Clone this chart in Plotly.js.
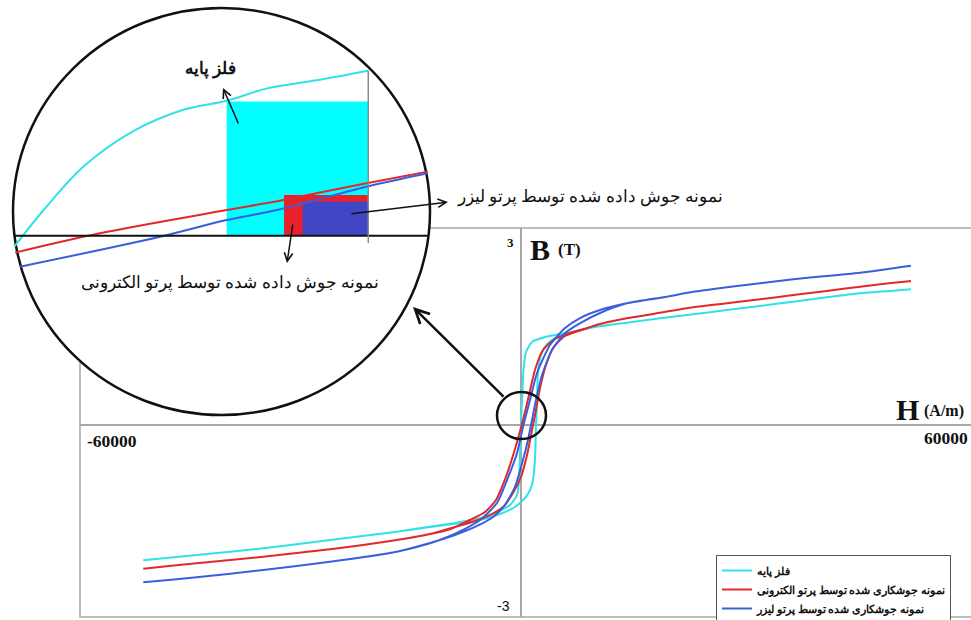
<!DOCTYPE html>
<html>
<head>
<meta charset="utf-8">
<script src="https://cdn.plot.ly/plotly-3.0.1.min.js"></script>
<style>html,body{margin:0;padding:0;background:#fff;}#chart{width:971px;height:620px;}</style>
</head>
<body>
<div id="chart"></div>
<script>
// ---------- main hysteresis loops (H in A/m, B in T) ----------
var seriesNames = ["فلز پایه", "نمونه جوشکاری شده توسط پرتو الکترونی", "نمونه جوشکاری شده توسط پرتو لیزر"];

// base metal (cyan)
var cyanDescH = [53060,50650,46120,41590,37050,32520,27990,23440,18910,14380,9840,6260,3270,1500,680,340,140,0,-140,-270,-540,-1500,-3270,-5580,-8750,-12380,-16910,-25990,-35060,-44120,-51390];
var cyanDescB = [2.067,2.045,2.006,1.945,1.878,1.812,1.751,1.686,1.625,1.558,1.488,1.401,1.340,1.264,1.112,0.838,0.381,0,-0.457,-0.838,-1.066,-1.218,-1.325,-1.421,-1.488,-1.549,-1.625,-1.751,-1.878,-1.980,-2.060];
var cyanAscH = [-51390,-44120,-35060,-25990,-16910,-12380,-8750,-5580,-2860,-820,680,1500,1900,2040,2180,2310,2720,3540,4900,6260,9840,14380,18910,23440,27990,32520,37050,41590,46120,50650,53060];
var cyanAscB = [-2.060,-1.980,-1.878,-1.751,-1.625,-1.553,-1.500,-1.447,-1.355,-1.249,-1.096,-0.914,-0.533,0,0.381,0.807,1.066,1.233,1.340,1.386,1.488,1.558,1.625,1.686,1.751,1.812,1.878,1.945,2.006,2.045,2.067];

// electron beam welded (red)
var redDescH = [53060,50650,46120,41590,37050,32520,27990,23440,18910,14380,10750,8940,6670,4630,2990,1900,1090,270,-540,-1360,-2310,-3400,-4900,-6940,-9660,-12380,-16910,-25990,-35060,-44120,-51390];
var redDescB = [2.193,2.167,2.106,2.041,1.980,1.914,1.853,1.792,1.710,1.625,1.538,1.473,1.401,1.310,1.142,0.838,0.457,0.076,-0.259,-0.563,-0.868,-1.142,-1.325,-1.447,-1.588,-1.660,-1.751,-1.893,-2.006,-2.106,-2.188];
var redAscH = [-51390,-44120,-35060,-25990,-16910,-12380,-8980,-6260,-4220,-2450,-1090,0,820,1500,2040,2590,3400,4350,5990,8940,10750,14380,18910,23440,27990,32520,37050,41590,46120,50650,53060];
var redAscB = [-2.188,-2.106,-2.006,-1.893,-1.751,-1.660,-1.553,-1.462,-1.371,-1.249,-1.036,-0.792,-0.457,-0.076,0.228,0.563,0.914,1.173,1.355,1.473,1.538,1.625,1.710,1.792,1.853,1.914,1.980,2.041,2.106,2.167,2.193];

// laser welded (blue)
var blueDescH = [53060,50650,46120,41590,37050,32520,27990,23440,19820,14380,10750,8030,5990,3950,2180,1220,270,-540,-1900,-3270,-5580,-7890,-9660,-12380,-16910,-25990,-35060,-44120,-51390];
var blueDescB = [2.426,2.386,2.319,2.269,2.219,2.158,2.097,2.030,1.954,1.853,1.751,1.629,1.477,1.218,0.792,0.381,-0.030,-0.426,-0.838,-1.188,-1.447,-1.599,-1.690,-1.801,-1.929,-2.082,-2.208,-2.319,-2.395];
var blueAscH = [-51390,-44120,-35060,-25990,-16910,-12380,-8980,-6260,-3810,-2180,-820,270,950,1500,2040,2860,4220,5990,8300,10750,14380,19820,23440,27990,32520,37050,41590,46120,50650,53060];
var blueAscB = [-2.395,-2.319,-2.208,-2.082,-1.929,-1.797,-1.675,-1.553,-1.401,-1.218,-0.944,-0.533,-0.228,0.076,0.381,0.761,1.142,1.401,1.568,1.706,1.853,1.954,2.030,2.097,2.158,2.219,2.269,2.319,2.386,2.426];

// ---------- magnified inset (arbitrary magnified units, -100..100) ----------
var insetCyanX = [-99.4,-85.5,-66.3,-42.3,-18.3,2.5,21.8,45.6,70.4];
var insetCyanY = [-17.3,0.5,22.0,39.5,50.0,54.4,60.5,64.5,69.2];
var insetRedX = [-99.0,-58.3,2.5,29.6,69.6,98.9];
var insetRedY = [-20.2,-10.7,0.7,5.7,13.9,19.6];
var insetBlueX = [-96.6,-29.5,2.5,26.5,69.6,98.9];
var insetBlueY = [-27.1,-12.4,-4.2,0.7,12.2,18.8];
var insetBarLeft = [2.5, 30.0, 38.9];
var insetBarTop = [54.0, 8.1, 4.8];
var insetBarRight = 70.4;
var insetBase = -11.9;

var cCyan = "#30e2e8", cRed = "#e2282c", cBlue = "#3b5fdc";
var barColors = ["#00ffff", "#e8202a", "#3f47c6"];

var serif = "Liberation Serif, DejaVu Serif, serif";

var traces = [];
function loop(dH, dB, aH, aB, name, color) {
  return {x: dH.concat(aH), y: dB.concat(aB), type: "scatter", mode: "lines", name: name,
    line: {color: color, width: 2, shape: "spline", smoothing: 0.6}, xaxis: "x", yaxis: "y"};
}
traces.push(loop(cyanDescH, cyanDescB, cyanAscH, cyanAscB, seriesNames[0], cCyan));
traces.push(loop(redDescH, redDescB, redAscH, redAscB, seriesNames[1], cRed));
traces.push(loop(blueDescH, blueDescB, blueAscH, blueAscB, seriesNames[2], cBlue));

for (var i = 0; i < insetBarLeft.length; i++) {
  traces.push({x: [insetBarLeft[i], insetBarRight, insetBarRight, insetBarLeft[i], insetBarLeft[i]],
    y: [insetBase, insetBase, insetBarTop[i], insetBarTop[i], insetBase],
    type: "scatter", mode: "lines", fill: "toself", fillcolor: barColors[i],
    line: {width: 0, color: barColors[i]}, showlegend: false, xaxis: "x2", yaxis: "y2", hoverinfo: "skip"});
}
traces.push({x: insetCyanX, y: insetCyanY, type: "scatter", mode: "lines", line: {color: cCyan, width: 2, shape: "spline", smoothing: 1}, showlegend: false, xaxis: "x2", yaxis: "y2"});
traces.push({x: insetRedX, y: insetRedY, type: "scatter", mode: "lines", line: {color: cRed, width: 2, shape: "spline"}, showlegend: false, xaxis: "x2", yaxis: "y2"});
traces.push({x: insetBlueX, y: insetBlueY, type: "scatter", mode: "lines", line: {color: cBlue, width: 2, shape: "spline"}, showlegend: false, xaxis: "x2", yaxis: "y2"});

var W = 971, Hh = 620;
function px(x) { return x / W; }
function py(y) { return 1 - y / Hh; }

function txt(x, y, t, size, opts) {
  var a = {xref: "paper", yref: "paper", x: px(x), y: py(y), text: t, showarrow: false,
    xanchor: "center", yanchor: "middle",
    font: {family: serif, size: size, color: "#111", weight: "bold"}};
  if (opts) for (var k in opts) a[k] = opts[k];
  return a;
}
function arrow(hx, hy, tx, ty, w) {
  return {xref: "paper", yref: "paper", x: px(hx), y: py(hy), ax: tx - hx, ay: ty - hy,
    text: "", showarrow: true, arrowhead: 5, arrowsize: 1.1, arrowwidth: w, arrowcolor: "#111"};
}

var layout = {
  width: W, height: Hh,
  margin: {l: 0, r: 0, t: 0, b: 0, autoexpand: false},
  paper_bgcolor: "#ffffff", plot_bgcolor: "rgba(0,0,0,0)",
  showlegend: true,
  xaxis: {domain: [80 / W, 1], range: [-60000, 61222], showgrid: false, showticklabels: false,
    zeroline: true, zerolinecolor: "#a8a8a8", zerolinewidth: 1.5, ticks: "", fixedrange: true},
  yaxis: {domain: [3 / Hh, 392 / Hh], range: [-2.924, 3.0], showgrid: false, showticklabels: false,
    zeroline: true, zerolinecolor: "#a8a8a8", zerolinewidth: 1.5, ticks: "", fixedrange: true},
  xaxis2: {domain: [13 / W, 430 / W], range: [-100, 100], visible: false, fixedrange: true, anchor: "y2"},
  yaxis2: {domain: [1 - 415 / Hh, 1 - 8 / Hh], range: [-100, 100], visible: false, fixedrange: true, anchor: "x2"},
  legend: {x: px(716), y: py(555), xanchor: "left", yanchor: "top", bgcolor: "#ffffff",
    bordercolor: "#555", borderwidth: 1, font: {family: serif, size: 11, color: "#111", weight: "bold"},
    tracegroupgap: 0, itemwidth: 30},
  shapes: [
    {type: "rect", xref: "paper", yref: "paper", x0: px(80), x1: px(990), y0: py(617), y1: py(228),
      line: {color: "#a8a8a8", width: 1.5}, fillcolor: "rgba(0,0,0,0)", layer: "below"},
    {type: "circle", xref: "paper", yref: "paper", x0: px(13), x1: px(430), y0: py(415), y1: py(8),
      line: {color: "#111", width: 2.5}, fillcolor: "#ffffff", layer: "below"},
    {type: "line", xref: "x2", yref: "y2", x0: -99.2, x1: 98.9, y0: insetBase, y1: insetBase,
      line: {color: "#111", width: 2}, layer: "above"},
    {type: "line", xref: "x2", yref: "y2", x0: insetBarRight, x1: insetBarRight, y0: -15.5, y1: 69.2,
      line: {color: "#888", width: 1.5}, layer: "above"},
    {type: "circle", xref: "paper", yref: "paper", x0: px(497), x1: px(546), y0: py(439), y1: py(392),
      line: {color: "#111", width: 2.5}, layer: "above"}
  ],
  annotations: [
    txt(540, 249, "B", 30),
    txt(569, 250, "(T)", 17),
    txt(907, 409, "H", 30),
    txt(944, 411, "(A/m)", 16),
    txt(510, 243, "3", 13),
    txt(503, 606, "-3", 14, {font: {family: "Liberation Sans, sans-serif", size: 14, color: "#111"}}),
    txt(112, 441, "-60000", 17.5),
    txt(946, 438, "60000", 17.5),
    txt(210, 69, "فلز پایه", 17),
    txt(230, 283, "نمونه جوش داده شده توسط پرتو الکترونی", 16.5, {font: {family: serif, size: 16.5, color: "#111"}}),
    txt(590, 197, "نمونه جوش داده شده توسط پرتو لیزر", 16.5, {font: {family: serif, size: 16.5, color: "#111"}}),
    arrow(413, 307, 505, 398, 2.5),
    arrow(223, 88, 239, 125, 1.5),
    arrow(287, 263, 293, 223, 1.5),
    arrow(448, 202, 350, 214, 1.5)
  ]
};

Plotly.newPlot("chart", traces, layout, {displayModeBar: false, staticPlot: true});
</script>
</body>
</html>
